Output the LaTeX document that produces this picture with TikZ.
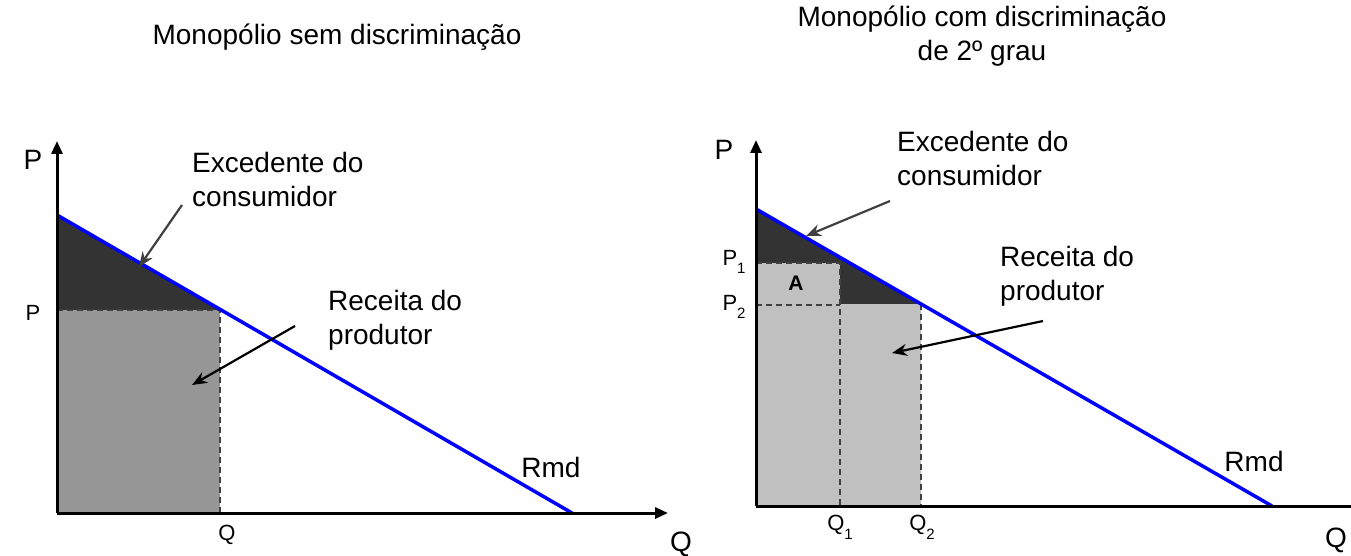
\documentclass[tikz,border=0pt]{standalone}
\usepackage{fontspec}
\setmainfont{Liberation Sans}
\usetikzlibrary{arrows.meta}
\definecolor{darkfill}{HTML}{333333}
\definecolor{midfill}{HTML}{969696}
\definecolor{lightfill}{HTML}{C0C0C0}
\definecolor{dashc}{HTML}{404040}
\definecolor{rmdblue}{HTML}{0000FF}
\newcommand{\sbs}[1]{\raisebox{-0.4em}{\fontsize{15}{15}\selectfont #1}}
\begin{document}
\begin{tikzpicture}[x=1pt,y=-1pt,
  big/.style={font=\fontsize{28}{34}\selectfont, inner sep=0pt},
  txtblock/.style={big, align=left, anchor=west},
  ticklbl/.style={font=\fontsize{22}{26}\selectfont, inner sep=0pt},
  axisline/.style={line width=3pt, black},
  axisarrow/.style={axisline, -{Triangle[length=13pt,width=11pt]}},
  demand/.style={line width=3.5pt, rmdblue},
  guide/.style={line width=1.8pt, dashc, dash pattern=on 6pt off 4pt},
  pointer/.style={line width=2.2pt, -{Stealth[length=15pt,width=12pt]}}
]
\useasboundingbox (0,0) rectangle (1351,556);

% ---------- left panel ----------
\coordinate (O1) at (57,513);
\coordinate (Y1) at (57,141);
\coordinate (X1) at (668,513);
\coordinate (Dtop1) at (57,215);
\coordinate (Dend1) at (572,513);
\coordinate (E1) at (220,310);
\coordinate (PL1) at (57,310);
\coordinate (QL1) at (220,513);

\fill[darkfill] (Dtop1) -- (E1) -- (PL1) -- cycle;
\fill[midfill] (PL1) rectangle (QL1);
\draw[guide] (PL1) -- (E1) -- (QL1);
\draw[demand] (Dtop1) -- (Dend1);
\draw[axisarrow] (O1) -- (Y1);
\draw[axisarrow] (O1) -- (X1);

\node[big] (title1) at (337,37) {Monopólio sem discriminação};
\node[big] (axP1) at (33,160) {P};
\node[big] (axQ1) at (681,544) {Q};
\node[ticklbl] (tP1) at (33,313) {P};
\node[ticklbl] (tQ1) at (227,535) {Q};
\node[big] (rmd1) at (551,467) {Rmd};
\node[txtblock] (exc1) at (192,179) {Excedente do\\consumidor};
\node[txtblock] (rec1) at (328,320) {Receita do\\produtor};

\coordinate (a1s) at (182,205);
\coordinate (a1e) at (139,267);
\coordinate (a2s) at (295,326);
\coordinate (a2e) at (192,385);
\draw[pointer, dashc] (a1s) -- (a1e);
\draw[pointer, black] (a2s) -- (a2e);

% ---------- right panel ----------
\coordinate (O2) at (756,506);
\coordinate (Y2) at (756,140);
\coordinate (X2) at (1351,506);
\coordinate (Dtop2) at (756,209);
\coordinate (Dend2) at (1272,506);
\coordinate (E2) at (921,304);
\coordinate (B2) at (840,304);
\coordinate (C2) at (840,263);
\coordinate (P1L) at (756,263);
\coordinate (P2L) at (756,305);
\coordinate (P2M) at (840,305);
\coordinate (Q1B) at (840,506);
\coordinate (Q2B) at (921,506);

\fill[darkfill] (Dtop2) -- (E2) -- (B2) -- (C2) -- (P1L) -- cycle;
\fill[lightfill] (P1L) rectangle (Q1B);
\fill[lightfill] (B2) rectangle (Q2B);
\draw[guide] (P1L) -- (C2) -- (Q1B);
\draw[guide] (P2L) -- (P2M);
\draw[guide] (E2) -- (Q2B);
\draw[demand] (Dtop2) -- (Dend2);
\draw[axisarrow] (O2) -- (Y2);
\draw[axisline] (O2) -- (X2);

\node[big, align=center] (title2) at (982,36) {Monopólio com discriminação\\de 2º grau};
\node[big] (axP2) at (724,150) {P};
\node[big] (axQ2) at (1336,540) {Q};
\node[ticklbl] (tP21) at (734,262) {P\sbs{1}};
\node[ticklbl] (tP22) at (734,307) {P\sbs{2}};
\node[ticklbl] (tQ21) at (840,527) {Q\sbs{1}};
\node[ticklbl] (tQ22) at (922,527) {Q\sbs{2}};
\node[ticklbl, font=\fontsize{21}{25}\selectfont\bfseries] (areaA) at (796,283) {A};
\node[big] (rmd2) at (1254,461) {Rmd};
\node[txtblock] (exc2) at (897,158) {Excedente do\\consumidor};
\node[txtblock] (rec2) at (1000,276) {Receita do\\produtor};

\coordinate (b1s) at (890,201);
\coordinate (b1e) at (806,236);
\coordinate (b2s) at (1043,321);
\coordinate (b2e) at (892,353);
\draw[pointer, dashc] (b1s) -- (b1e);
\draw[pointer, black] (b2s) -- (b2e);
\end{tikzpicture}
\end{document}
